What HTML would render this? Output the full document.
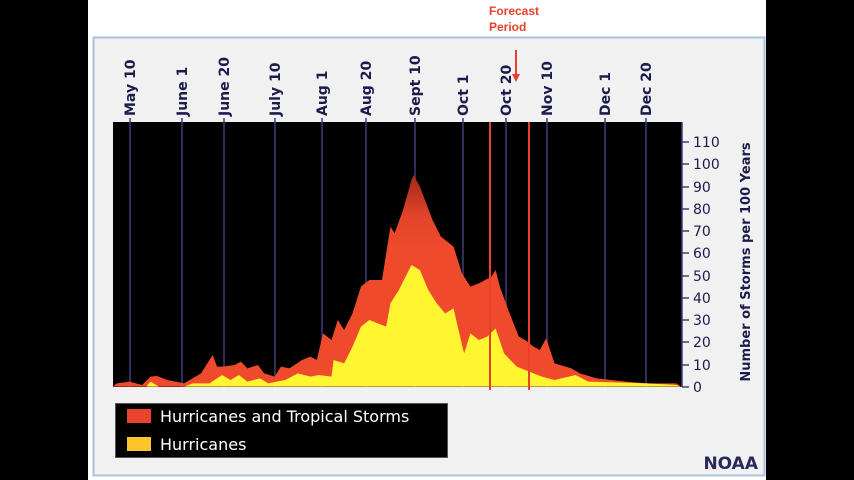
<!DOCTYPE html>
<html><head><meta charset="utf-8"><style>
html,body{margin:0;padding:0;background:#000;}
body{width:854px;height:480px;position:relative;overflow:hidden;font-family:"DejaVu Sans","Liberation Sans",sans-serif;}
</style></head><body>
<svg width="854" height="480" viewBox="0 0 854 480" xmlns="http://www.w3.org/2000/svg" style="position:absolute;left:0;top:0">
<defs>
<linearGradient id="rg" gradientUnits="userSpaceOnUse" x1="0" y1="170" x2="0" y2="387">
<stop offset="0" stop-color="#a52a1a"/><stop offset="0.55" stop-color="#e2442a"/><stop offset="1" stop-color="#ef4a2c"/></linearGradient>
<linearGradient id="yg" gradientUnits="userSpaceOnUse" x1="0" y1="265" x2="0" y2="387">
<stop offset="0" stop-color="#f09a22"/><stop offset="0.5" stop-color="#fbd22a"/><stop offset="1" stop-color="#fff530"/></linearGradient>
</defs>
<rect x="88" y="0" width="678" height="480" fill="#fff"/>
<rect x="93.5" y="37.5" width="671" height="438" fill="#f1f1f1" stroke="#a9c4dc" stroke-width="2"/>
<text x="489" y="15" font-family="Liberation Sans" font-weight="bold" font-size="12" fill="#e8402a">Forecast</text>
<text x="489" y="31" font-family="Liberation Sans" font-weight="bold" font-size="12" fill="#e8402a">Period</text>
<line x1="516" y1="50" x2="516" y2="76" stroke="#e8402a" stroke-width="2"/>
<polygon points="512,74 520,74 516,82" fill="#e8402a"/>
<rect x="113" y="122" width="569" height="265" fill="#000"/>
<g stroke="#3a3f78" stroke-width="1.5">
<line x1="130" y1="118" x2="130" y2="387"/><line x1="182" y1="118" x2="182" y2="387"/><line x1="224" y1="118" x2="224" y2="387"/><line x1="275" y1="118" x2="275" y2="387"/><line x1="322" y1="118" x2="322" y2="387"/><line x1="366" y1="118" x2="366" y2="387"/><line x1="415" y1="118" x2="415" y2="387"/><line x1="463" y1="118" x2="463" y2="387"/><line x1="506" y1="118" x2="506" y2="387"/><line x1="547" y1="118" x2="547" y2="387"/><line x1="605" y1="118" x2="605" y2="387"/><line x1="646" y1="118" x2="646" y2="387"/>
</g>
<g transform="translate(100,120) scale(0.4209,0.33333)">
<polygon fill="url(#rg)" transform="scale(1,1)" points="30,800 40,790 70,785 100,795 120,770 135,768 160,780 200,790 240,760 260,720 268,705 278,740 290,740 320,735 335,725 350,745 375,735 390,760 415,770 430,740 450,745 480,720 500,710 515,720 530,640 550,660 565,600 580,630 600,580 620,500 640,480 670,480 690,320 700,340 720,270 740,180 745,165 760,200 790,300 810,350 840,380 860,460 880,500 900,490 930,470 940,450 950,500 970,570 995,650 1010,660 1030,680 1045,690 1060,655 1080,730 1120,745 1140,760 1180,775 1250,785 1300,790 1370,790 1380,800" />
<polygon fill="url(#yg)" points="110,800 120,785 140,800 200,800 220,790 260,790 290,765 310,780 330,765 350,785 380,775 400,790 420,785 440,780 470,760 500,770 520,765 550,770 555,720 580,730 600,680 620,620 640,600 660,610 680,620 690,550 710,510 740,435 760,450 780,510 800,550 820,580 840,565 850,620 865,700 880,640 900,660 920,650 940,625 960,700 990,740 1030,760 1050,770 1080,780 1130,765 1160,785 1300,790 1370,795 1380,800"/>
</g>
<line x1="490" y1="122" x2="490" y2="390" stroke="#e8402a" stroke-width="2"/>
<line x1="529" y1="122" x2="529" y2="390" stroke="#e8402a" stroke-width="2"/>
<line x1="682" y1="122" x2="682" y2="387" stroke="#3a3f78" stroke-width="1.5"/>
<g font-family="DejaVu Sans" font-size="14" fill="#1c1c4c" font-weight="bold">
<text transform="translate(135,116) rotate(-90)">May 10</text>
<text transform="translate(187,116) rotate(-90)">June 1</text>
<text transform="translate(229,116) rotate(-90)">June 20</text>
<text transform="translate(280,116) rotate(-90)">July 10</text>
<text transform="translate(327,116) rotate(-90)">Aug 1</text>
<text transform="translate(371,116) rotate(-90)">Aug 20</text>
<text transform="translate(420,116) rotate(-90)">Sept 10</text>
<text transform="translate(468,116) rotate(-90)">Oct 1</text>
<text transform="translate(511,116) rotate(-90)">Oct 20</text>
<text transform="translate(552,116) rotate(-90)">Nov 10</text>
<text transform="translate(610,116) rotate(-90)">Dec 1</text>
<text transform="translate(651,116) rotate(-90)">Dec 20</text>
<text transform="translate(750,262) rotate(-90)" text-anchor="middle" font-size="13">Number of Storms per 100 Years</text>
</g>
<g font-family="DejaVu Sans" font-size="14" fill="#1c1c4c" stroke="#3a3f78">
<g stroke-width="1.5">
<line x1="682" y1="387" x2="689" y2="387"/><line x1="682" y1="365" x2="689" y2="365"/><line x1="682" y1="342" x2="689" y2="342"/><line x1="682" y1="320" x2="689" y2="320"/><line x1="682" y1="298" x2="689" y2="298"/><line x1="682" y1="276" x2="689" y2="276"/><line x1="682" y1="253" x2="689" y2="253"/><line x1="682" y1="231" x2="689" y2="231"/><line x1="682" y1="209" x2="689" y2="209"/><line x1="682" y1="187" x2="689" y2="187"/><line x1="682" y1="164" x2="689" y2="164"/><line x1="682" y1="142" x2="689" y2="142"/>
</g>
<g stroke="none">
<text x="693" y="392">0</text><text x="693" y="370">10</text><text x="693" y="347">20</text><text x="693" y="325">30</text><text x="693" y="303">40</text><text x="693" y="281">50</text><text x="693" y="258">60</text><text x="693" y="236">70</text><text x="693" y="214">80</text><text x="693" y="192">90</text><text x="693" y="169">100</text><text x="693" y="147">110</text>
</g></g>
<rect x="115.5" y="403.5" width="332" height="54" fill="#000" stroke="#555"/>
<rect x="127" y="409" width="24" height="14" fill="#e8442c"/>
<rect x="127" y="437" width="24" height="14" fill="#fcc52a"/>
<g font-family="DejaVu Sans" font-size="16" fill="#fff">
<text x="160" y="422">Hurricanes and Tropical Storms</text>
<text x="160" y="450">Hurricanes</text>
</g>
<text x="758" y="469" text-anchor="end" font-family="DejaVu Sans" font-weight="bold" font-size="17" fill="#2a2a5a">NOAA</text>
</svg>
</body></html>
